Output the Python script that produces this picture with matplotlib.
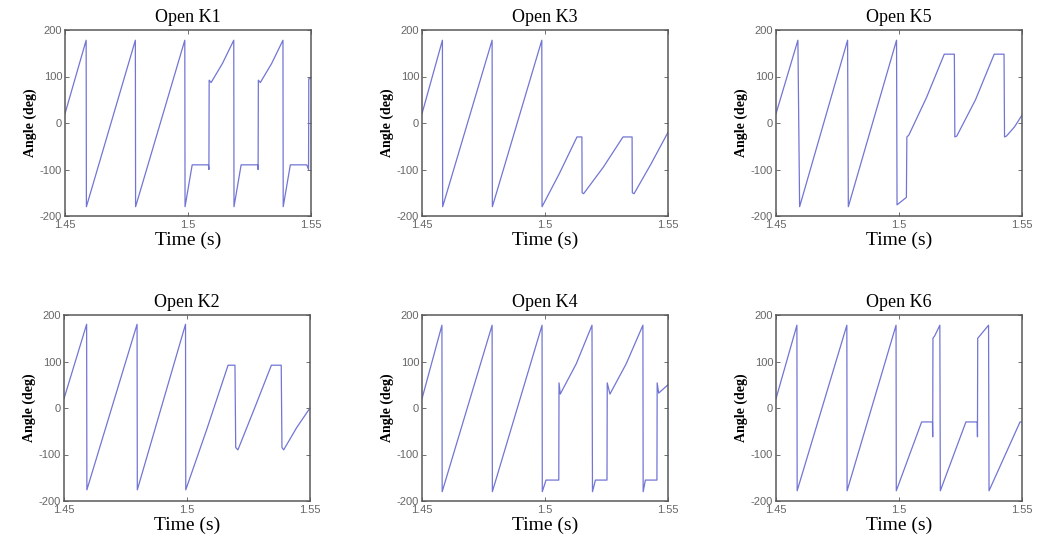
#!/usr/bin/env python3
"""Phase angle after opening each switch K1..K6."""
import matplotlib
matplotlib.use('Agg')
import matplotlib.pyplot as plt

LINE = '#7275d4'
FRAME = '#585858'
TICK = '#666666'
SERIF = ['Liberation Serif', 'DejaVu Serif']
SANS = ['Liberation Sans', 'DejaVu Sans']

plt.rcParams['axes.unicode_minus'] = False

# angle (deg) against time (s), one pair of lists per switch
K1_T = [1.4500, 1.4586, 1.4587, 1.4786, 1.4787, 1.4987, 1.4988, 1.5017, 1.5083,
        1.5085, 1.5086, 1.5094, 1.5140, 1.5186, 1.5187, 1.5216, 1.5283, 1.5285,
        1.5286, 1.5294, 1.5340, 1.5386, 1.5387, 1.5416, 1.5483, 1.5490, 1.5491,
        1.5500]
K1_V = [20, 178, -180, 178, -180, 178, -180, -90, -90,
        -100, 92, 87, 128, 178, -180, -90, -90, -100,
        92, 87, 128, 178, -180, -90, -90, -100, 95,
        96]

K3_T = [1.4500, 1.4583, 1.4584, 1.4785, 1.4786, 1.4987, 1.4988, 1.5059, 1.5130,
        1.5150, 1.5151, 1.5157, 1.5237, 1.5317, 1.5354, 1.5355, 1.5362, 1.5431,
        1.5500]
K3_V = [20, 178, -180, 178, -180, 178, -180, -108, -30,
        -30, -150, -152, -95, -30, -30, -150, -152, -88,
        -20]

K5_T = [1.4500, 1.4589, 1.4596, 1.4791, 1.4794, 1.4990, 1.4992, 1.5030, 1.5032,
        1.5040, 1.5112, 1.5184, 1.5225, 1.5227, 1.5235, 1.5311, 1.5387, 1.5427,
        1.5429, 1.5437, 1.5470, 1.5500]
K5_V = [20, 178, -180, 178, -180, 178, -176, -160, -30,
        -26, 55, 148, 148, -30, -28, 50, 148, 148,
        -30, -28, -8, 17]

K2_T = [1.4500, 1.4592, 1.4593, 1.4797, 1.4798, 1.4994, 1.4995, 1.5081, 1.5167,
        1.5195, 1.5198, 1.5207, 1.5275, 1.5343, 1.5383, 1.5386, 1.5393, 1.5446,
        1.5500]
K2_V = [20, 180, -176, 180, -176, 180, -176, -45, 92,
        92, -85, -90, 0, 92, 92, -85, -90, -42,
        0]

K4_T = [1.4500, 1.4581, 1.4582, 1.4785, 1.4786, 1.4988, 1.4989, 1.5004, 1.5056,
        1.5057, 1.5062, 1.5127, 1.5191, 1.5193, 1.5205, 1.5252, 1.5253, 1.5264,
        1.5330, 1.5398, 1.5399, 1.5408, 1.5455, 1.5456, 1.5462, 1.5500]
K4_V = [20, 178, -180, 178, -180, 178, -180, -155, -155,
        54, 30, 95, 178, -180, -155, -155, 54, 30,
        95, 178, -180, -155, -155, 54, 32, 50]

K6_T = [1.4500, 1.4585, 1.4586, 1.4788, 1.4789, 1.4988, 1.4989, 1.5092, 1.5136,
        1.5137, 1.5138, 1.5145, 1.5166, 1.5168, 1.5272, 1.5318, 1.5319, 1.5320,
        1.5328, 1.5364, 1.5366, 1.5492, 1.5500]
K6_V = [20, 178, -178, 178, -178, 178, -178, -30, -30,
        -62, 150, 155, 178, -178, -30, -30, -62, 150,
        155, 178, -178, -30, -30]

X_TICKS = [1.45, 1.5, 1.55]
X_LABELS = ['1.45', '1.5', '1.55']
Y_TICKS = [-200, -100, 0, 100, 200]

# (title, t, v, left px, top px) on a 1041 x 540 canvas
PANELS = [
    ('Open K1', K1_T, K1_V, 65, 30),
    ('Open K3', K3_T, K3_V, 422, 30),
    ('Open K5', K5_T, K5_V, 776, 30),
    ('Open K2', K2_T, K2_V, 64, 315),
    ('Open K4', K4_T, K4_V, 422, 315),
    ('Open K6', K6_T, K6_V, 776, 315),
]
W, H = 1041, 540
AX_W, AX_H = 246, 186


def panel(fig, title, t, v, left, top):
    ax = fig.add_axes([left / W, 1 - (top + AX_H) / H, AX_W / W, AX_H / H])
    ax.plot(t, v, color=LINE, lw=0.9)
    ax.set_xlim(1.45, 1.55)
    ax.set_ylim(-200, 200)
    ax.set_xticks(X_TICKS)
    ax.set_xticklabels(X_LABELS)
    ax.set_yticks(Y_TICKS)
    ax.tick_params(direction='in', length=3, width=0.6, colors=FRAME,
                   labelcolor=TICK, labelsize=8, top=True, right=True)
    ax.tick_params(axis='x', pad=3)
    ax.tick_params(axis='y', pad=2)
    for lbl in ax.get_xticklabels() + ax.get_yticklabels():
        lbl.set_family(SANS)
    for sp in ax.spines.values():
        sp.set_color(FRAME)
        sp.set_linewidth(1.1)
    ax.set_title(title, family=SERIF, fontsize=13, pad=6)
    ax.set_xlabel('Time (s)', family=SERIF, fontsize=14, labelpad=1)
    ax.set_ylabel('Angle (deg)', family=SERIF, fontsize=10, fontweight='bold',
                  labelpad=2)
    return ax


def main():
    fig = plt.figure(figsize=(W / 100, H / 100), dpi=100, facecolor='white')
    for title, t, v, left, top in PANELS:
        panel(fig, title, t, v, left, top)
    fig.savefig('out.png', dpi=100, facecolor='white')


if __name__ == '__main__':
    main()
